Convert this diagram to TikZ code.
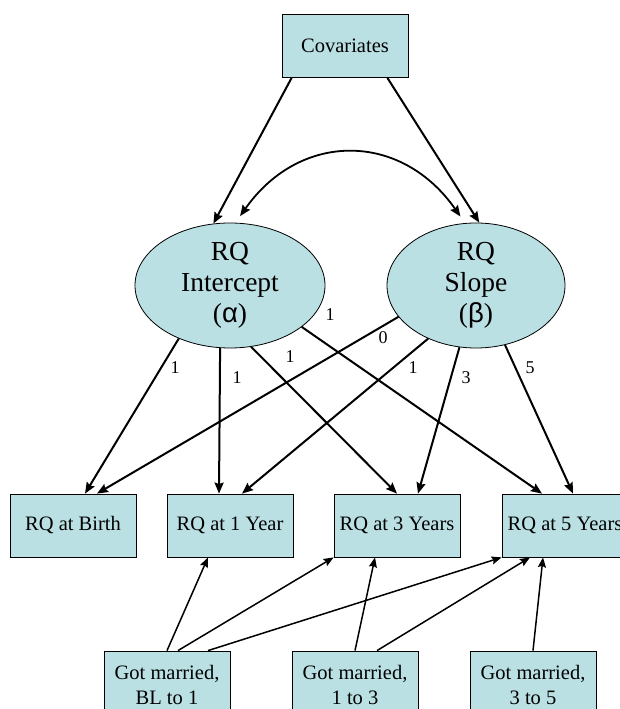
\documentclass[tikz,border=0pt]{standalone}
\usepackage{fontspec}
\setmainfont{Liberation Serif}
\newfontfamily\greekfont{Liberation Sans}
\usetikzlibrary{shapes.geometric,arrows.meta}
\definecolor{boxfill}{RGB}{186,224,227}
\tikzset{
  varbox/.style={draw, line width=0.8pt, fill=boxfill, minimum width=126pt, minimum height=63pt,
    inner sep=0pt, align=center, font=\fontsize{20.5}{25}\selectfont},
  latent/.style={draw, line width=0.8pt, fill=boxfill, ellipse, minimum height=125pt,
    inner sep=0pt, align=center, font=\fontsize{27.5}{31}\selectfont},
  load/.style={-{Stealth[length=11pt,width=9pt,inset=1.5pt]}, line width=2pt},
  corr/.style={{Stealth[length=11pt,width=9pt,inset=1.5pt]}-{Stealth[length=11pt,width=9pt,inset=1.5pt]},
    line width=1.8pt, shorten <=8pt, shorten >=8pt},
  marr/.style={-{Stealth[length=10pt,width=8pt,inset=1.5pt]}, line width=1.5pt},
  wlbl/.style={inner sep=0pt, font=\fontsize{18}{18}\selectfont}
}
\begin{document}
\begin{tikzpicture}[x=1pt,y=1pt]
\useasboundingbox (0,0) rectangle (620,709);
%top
\node[varbox] (cov) at (345,663) {Covariates};
%growth factors
\node[latent, minimum width=190pt] (icpt) at (230,423.5) {RQ\\Intercept\\({\greekfont α})};
\node[latent, minimum width=178pt] (slope) at (476,423.5) {RQ\\Slope\\({\greekfont β})};
%repeated measures
\node[varbox] (birth) at (73,183.5) {RQ at Birth};
\node[varbox] (yr1) at (230,183.5) {RQ at 1 Year};
\node[varbox] (yr3) at (397,183.5) {RQ at 3 Years};
\node[varbox] (yr5) at (565,183.5) {RQ at 5 Years};
%time-varying covariates
\node[varbox, minimum height=68pt] (gm1) at (167,24) {Got married,\\BL to 1};
\node[varbox, minimum height=68pt] (gm3) at (355,24) {Got married,\\1 to 3};
\node[varbox, minimum height=68pt] (gm5) at (533,24) {Got married,\\3 to 5};

%covariates to factors
\draw[load] ([xshift=10pt]cov.south west) -- (icpt.105);
\draw[load] ([xshift=-21pt]cov.south east) -- (slope.87);
\draw[corr] (icpt.85) to[bend left=55, looseness=1.25] (slope.100);

%loadings
\draw[load] (icpt.226) -- ([xshift=12pt]birth.north);
\draw[load] (icpt.261) -- ([xshift=-11pt]yr1.north);
\draw[load] (icpt.289) -- (yr3.north);
\draw[load] (icpt.330) -- ([xshift=-23pt]yr5.north);
\draw[load] (slope.202) -- ([xshift=24pt]birth.north);
\draw[load] (slope.228) -- ([xshift=12pt]yr1.north);
\draw[load] (slope.255) -- ([xshift=21pt]yr3.north);
\draw[load] (slope.296) -- ([xshift=8pt]yr5.north);

%loading values
\node[wlbl] (la1) at (175,341) {1};
\node[wlbl] (la2) at (237,331) {1};
\node[wlbl] (la3) at (290,352) {1};
\node[wlbl] (la4) at (330,394) {1};
\node[wlbl] (lb1) at (383,371) {0};
\node[wlbl] (lb2) at (413,341) {1};
\node[wlbl] (lb3) at (466,331) {3};
\node[wlbl] (lb4) at (530,341) {5};

%marriage effects
\draw[marr] (gm1.north) -- ([xshift=-22pt]yr1.south);
\draw[marr] ([xshift=11pt]gm1.north) -- (yr3.south west);
\draw[marr] ([xshift=41pt]gm1.north) -- (yr5.south west);
\draw[marr] (gm3.north) -- ([xshift=-22pt]yr3.south);
\draw[marr] ([xshift=22pt]gm3.north) -- ([xshift=-35pt]yr5.south);
\draw[marr] (gm5.north) -- ([xshift=-22pt]yr5.south);
\end{tikzpicture}
\end{document}
